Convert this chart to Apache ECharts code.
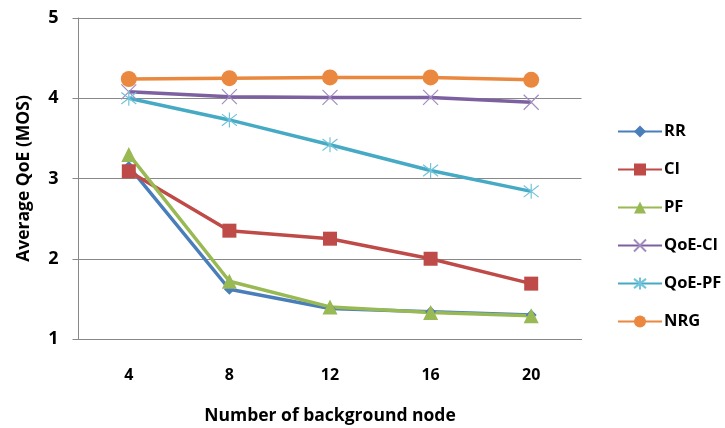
<!DOCTYPE html>
<html><head><meta charset="utf-8">
<script src="https://cdn.jsdelivr.net/npm/echarts@6/dist/echarts.min.js"></script>
<style>html,body{margin:0;padding:0;background:#fff}#c{width:725px;height:428px}</style>
</head><body><div id="c"></div>
<script>
const categories = ['4', '8', '12', '16', '20'];
const RR = [3.15, 1.62, 1.38, 1.34, 1.30];
const CI = [3.09, 2.35, 2.25, 2.00, 1.69];
const PF = [3.30, 1.72, 1.40, 1.33, 1.29];
const QoE_CI = [4.08, 4.02, 4.01, 4.01, 3.95];
const QoE_PF = [4.00, 3.73, 3.42, 3.10, 2.84];
const NRG = [4.24, 4.25, 4.26, 4.26, 4.23];
const yTicks = [1, 2, 3, 4, 5];

const font = '"Open Sans", Lato, sans-serif';
const crossPath = 'path://M0,0L10,10M10,0L0,10';
const starPath = 'path://M0,0L10,10M10,0L0,10M5,-1.5L5,11.5';

function mk(name, data, color, symbol, size, extra) {
  return Object.assign({
    name, type: 'line', data, symbol, symbolSize: size,
    lineStyle: {color, width: 3.5},
    itemStyle: {color},
    emphasis: {disabled: true}
  }, extra || {});
}

const chart = echarts.init(document.getElementById('c'), null, {renderer: 'canvas'});
chart.setOption({
  animation: false,
  grid: {left: 78.5, right: 143.5, top: 18, bottom: 89, containLabel: false, outerBoundsMode: 'none'},
  legend: {
    orient: 'vertical', left: 612, top: 118,
    itemWidth: 44, itemHeight: 15, itemGap: 21,
    textStyle: {fontFamily: font, fontWeight: 'bold', fontSize: 16.5, color: '#000', padding: [0, 0, 0, -3]},
    data: ['RR', 'CI', 'PF', 'QoE-CI', 'QoE-PF', 'NRG']
  },
  xAxis: {
    type: 'category', data: categories, boundaryGap: true,
    name: 'Number of background node', nameLocation: 'middle', nameGap: 68,
    nameTextStyle: {fontFamily: font, fontWeight: 'bold', fontSize: 17.5, color: '#000'},
    axisLine: {lineStyle: {color: '#888', width: 1}},
    axisTick: {show: false},
    axisLabel: {fontFamily: font, fontWeight: 'bold', fontSize: 16, color: '#000', margin: 28}
  },
  yAxis: {
    type: 'value', min: yTicks[0], max: yTicks[yTicks.length - 1], interval: 1,
    name: 'Average QoE (MOS)', nameLocation: 'middle', nameGap: 45, nameRotate: 90,
    nameTextStyle: {fontFamily: font, fontWeight: 'bold', fontSize: 17.5, color: '#000'},
    axisLine: {show: true, lineStyle: {color: '#888', width: 1}},
    axisTick: {show: true, length: 6, lineStyle: {color: '#888'}},
    splitLine: {lineStyle: {color: '#888', width: 1}},
    axisLabel: {fontFamily: font, fontWeight: 'bold', fontSize: 18, color: '#000', margin: 20}
  },
  series: [
    mk('RR', RR, '#4A7EBB', 'diamond', 11),
    mk('CI', CI, '#BE4B48', 'rect', 14),
    mk('PF', PF, '#98B954', 'triangle', 15),
    mk('QoE-CI', QoE_CI, '#7D60A0', crossPath, 15, {itemStyle: {color: '#7D60A0', borderColor: '#A18CC2', borderWidth: 1.2}}),
    mk('QoE-PF', QoE_PF, '#46AAC5', starPath, 15, {itemStyle: {color: '#46AAC5', borderColor: '#72C4DA', borderWidth: 1.2}}),
    mk('NRG', NRG, '#E9883E', 'circle', 16)
  ]
});
</script></body></html>
